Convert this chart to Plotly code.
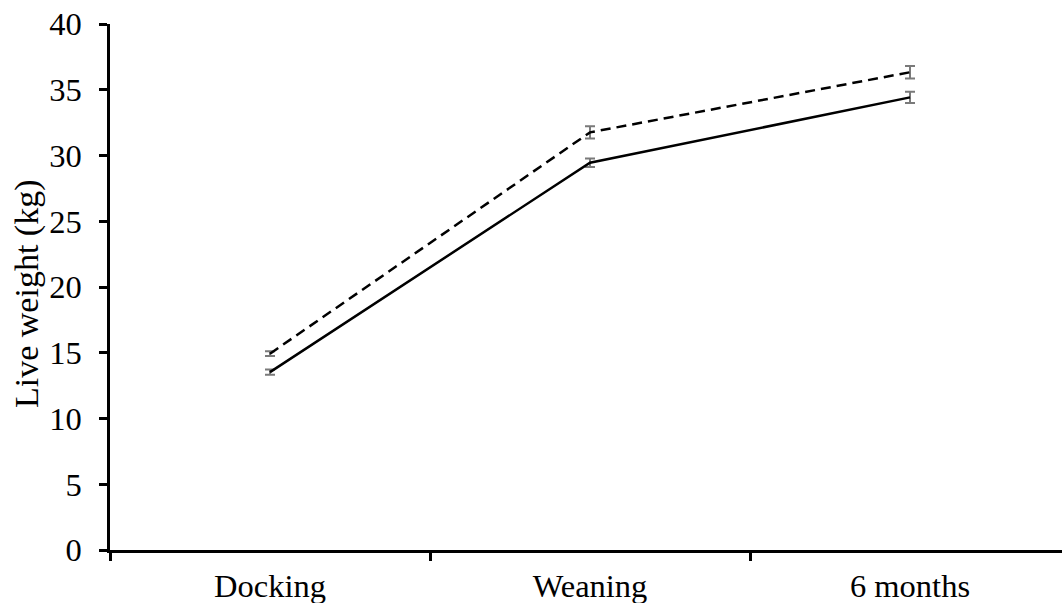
import plotly.graph_objects as go

categories = ["Docking", "Weaning", "6 months"]
solid_values = [13.53, 29.45, 34.42]
solid_errors = [0.2, 0.32, 0.42]
dashed_values = [14.93, 31.76, 36.33]
dashed_errors = [0.18, 0.47, 0.47]
y_ticks = [0, 5, 10, 15, 20, 25, 30, 35, 40]
y_title = "Live weight (kg)"

FONT = "Liberation Serif, Times New Roman, serif"
FS = 32.5
FS_TITLE = 34
err_style = dict(type="data", visible=True, color="#7a7a7a", thickness=2, width=5)

fig = go.Figure()
fig.add_trace(go.Scatter(
    x=categories, y=dashed_values, mode="lines",
    line=dict(color="black", width=2.5, dash="10px,6px"),
    error_y=dict(array=dashed_errors, **err_style),
    showlegend=False,
))
fig.add_trace(go.Scatter(
    x=categories, y=solid_values, mode="lines",
    line=dict(color="black", width=2.5),
    error_y=dict(array=solid_errors, **err_style),
    showlegend=False,
))

fig.update_layout(
    width=1062, height=603,
    margin=dict(l=110, r=0, t=24, b=53),
    paper_bgcolor="white", plot_bgcolor="white",
    font=dict(family=FONT, size=FS, color="black"),
)
fig.update_xaxes(
    type="category", range=[-0.5, 2.475], automargin=False,
    showline=True, linecolor="black", linewidth=2.5,
    ticks="outside", tickson="boundaries", ticklen=8, tickwidth=2.5, tickcolor="black",
    ticklabelstandoff=5,
    showgrid=False, zeroline=False,
    tickfont=dict(family=FONT, size=FS, color="black"),
)
fig.update_yaxes(
    range=[0, 40], tickvals=y_ticks, automargin=False,
    showline=True, linecolor="black", linewidth=2.5,
    ticks="outside", ticklen=8, tickwidth=2.5, tickcolor="black",
    ticklabelstandoff=11,
    showgrid=False, zeroline=False,
    tickfont=dict(family=FONT, size=FS, color="black"),
)
fig.add_annotation(
    text=y_title, textangle=-90, showarrow=False,
    xref="paper", yref="paper", x=0, y=0.5, xanchor="center", yanchor="middle",
    xshift=-83, yshift=-7,
    font=dict(family=FONT, size=FS_TITLE, color="black"),
)

fig.write_html(
    "out.html",
    config={"displayModeBar": False},
    post_script="document.body.style.margin='0';document.body.style.overflow='hidden';",
)
